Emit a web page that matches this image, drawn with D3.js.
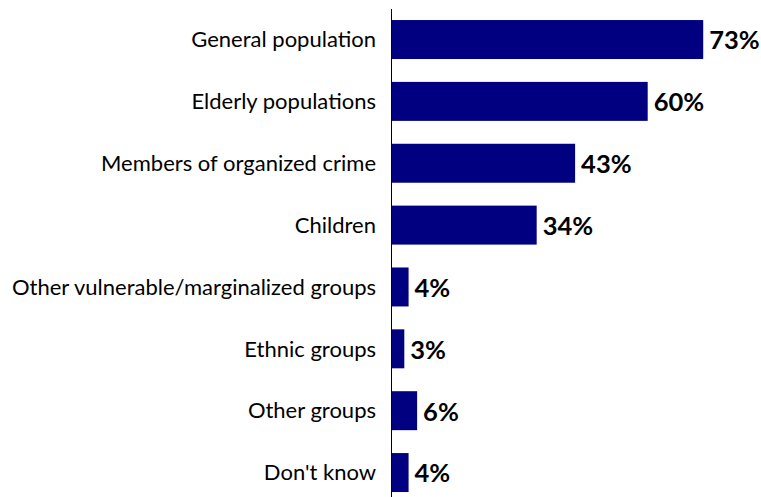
<!DOCTYPE html>
<html>
<head>
<meta charset="utf-8">
<script src="https://cdn.jsdelivr.net/npm/d3@7"></script>
<style>
  html, body { margin: 0; padding: 0; background: #fff; }
  svg { display: block; }
</style>
</head>
<body>
<svg id="chart" width="761" height="497"></svg>
<script>
// Groups and their shares (%)
const categories = [
  "General population",
  "Elderly populations",
  "Members of organized crime",
  "Children",
  "Other vulnerable/marginalized groups",
  "Ethnic groups",
  "Other groups",
  "Don't know"
];
const values = [73, 60, 43, 34, 4, 3, 6, 4];
const valueLabels = ["73%", "60%", "43%", "34%", "4%", "3%", "6%", "4%"];

const svg = d3.select("#chart");
const x0 = 391.5;
const pxPerPct = 4.27;

const x = d3.scaleLinear().domain([0, 80]).range([x0, x0 + 80 * pxPerPct]);
const y = d3.scaleBand()
  .domain(categories)
  .range([8.6, 8.6 + 8 * 61.86])
  .paddingInner(0.37)
  .paddingOuter(0.185);

const font = "Lato, 'Open Sans', sans-serif";

// bars
svg.append("g").selectAll("rect")
  .data(categories)
  .join("rect")
  .attr("x", x(0))
  .attr("y", d => y(d))
  .attr("width", (d, i) => x(values[i]) - x(0))
  .attr("height", y.bandwidth())
  .attr("fill", "#000080");

// category labels
svg.append("g").selectAll("text")
  .data(categories)
  .join("text")
  .attr("x", 376)
  .attr("y", d => y(d) + y.bandwidth() / 2)
  .attr("dy", "0.35em")
  .attr("text-anchor", "end")
  .attr("font-family", font)
  .attr("font-size", 22)
  .attr("fill", "#000")
  .text(d => d);

// value labels
svg.append("g").selectAll("text")
  .data(categories)
  .join("text")
  .attr("x", (d, i) => x(values[i]) + 6)
  .attr("y", d => y(d) + y.bandwidth() / 2 + 1)
  .attr("dy", "0.35em")
  .attr("font-family", font)
  .attr("font-weight", "bold")
  .attr("font-size", 25.5)
  .attr("fill", "#000")
  .text((d, i) => valueLabels[i]);

// vertical axis line
svg.append("line")
  .attr("x1", x0).attr("x2", x0)
  .attr("y1", 9).attr("y2", 497)
  .attr("stroke", "#000")
  .attr("stroke-width", 1);
</script>
</body>
</html>
